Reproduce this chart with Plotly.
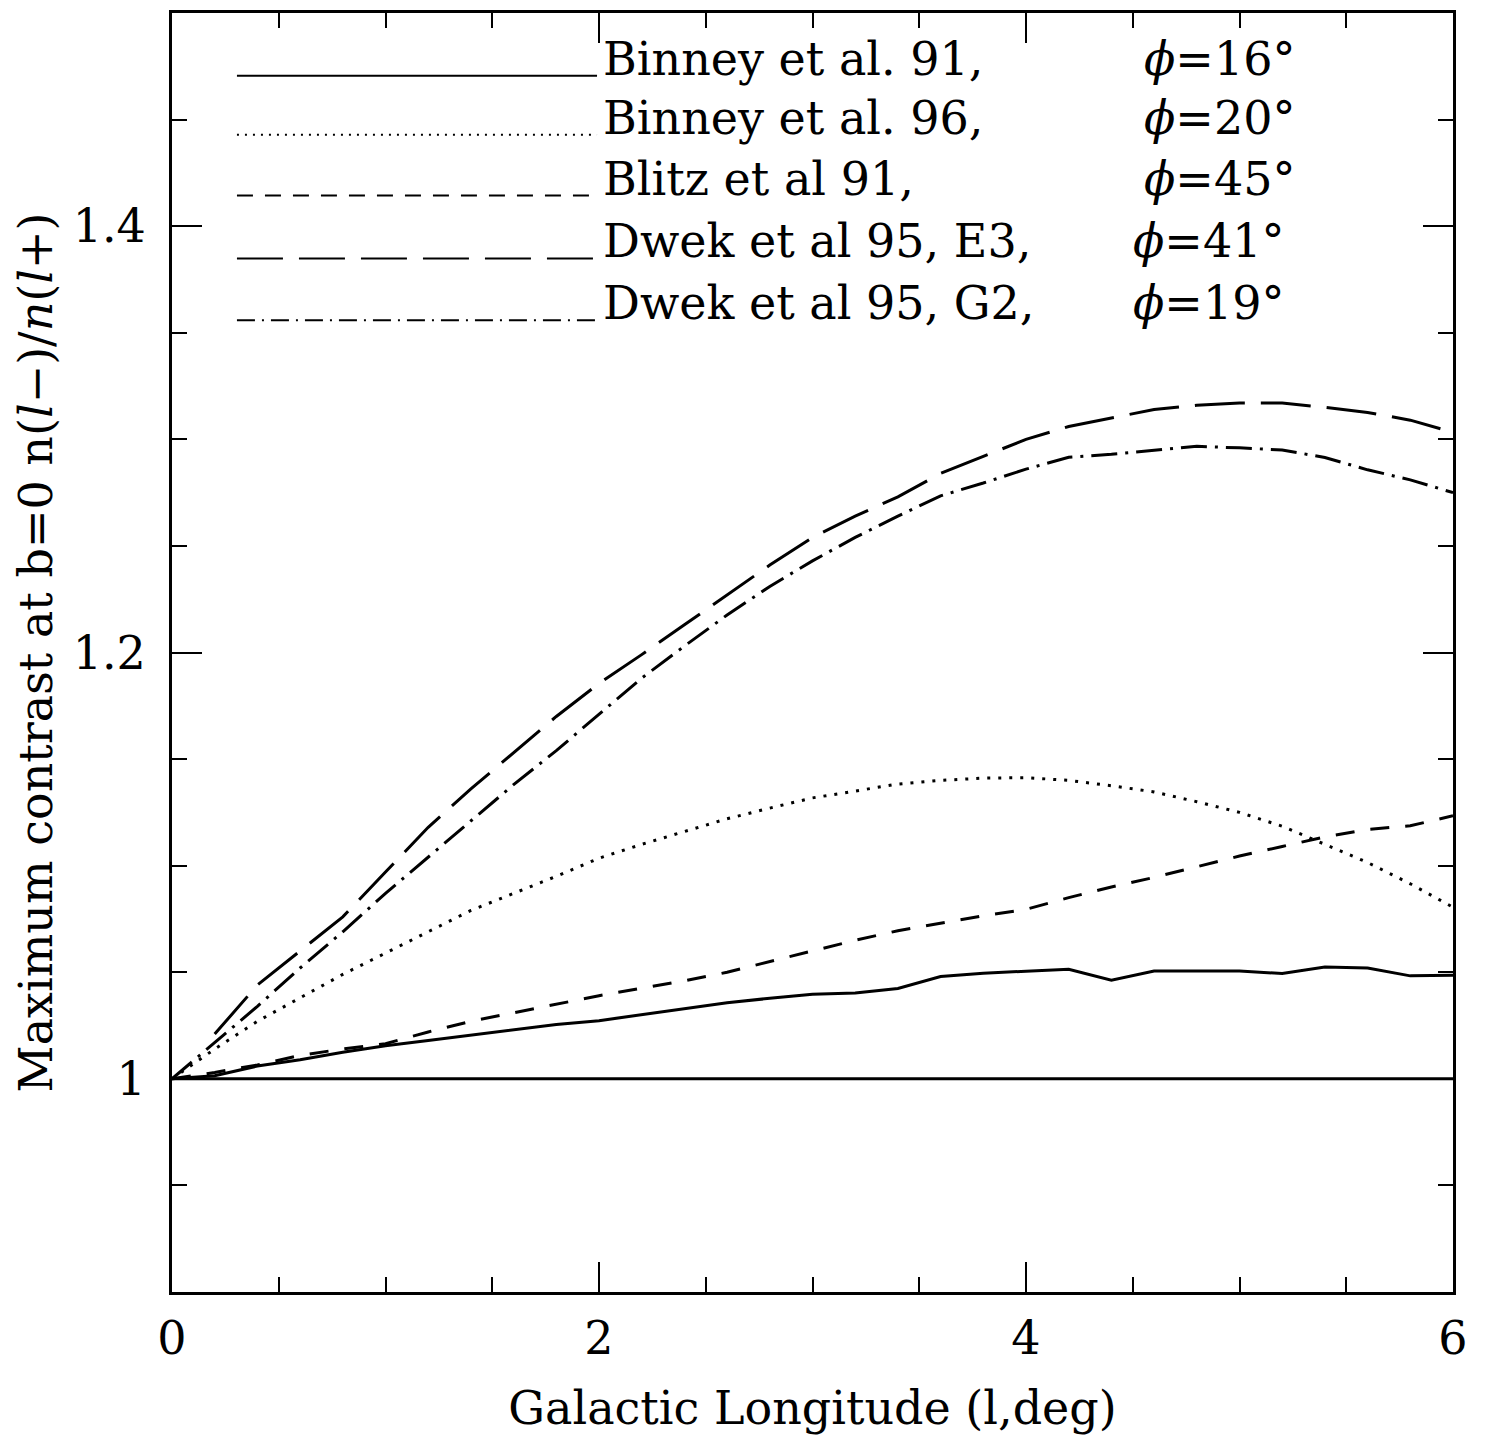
# MAXIMUM CONTRAST n(l-)/n(l+) AT b=0 FOR DIFFERENT BAR MODELS
# ----------------------------------------------------------------------------------------------------

# IMPORTING LIBRARIES
# ----------------------------------------------------------------------------------------------------
import plotly.graph_objects as go

# DATA
# ----------------------------------------------------------------------------------------------------
longitude = [0.0, 0.2, 0.4, 0.6, 0.8, 1.0, 1.2, 1.4, 1.6, 1.8, 2.0, 2.2, 2.4, 2.6, 2.8, 3.0,
             3.2, 3.4, 3.6, 3.8, 4.0, 4.2, 4.4, 4.6, 4.8, 5.0, 5.2, 5.4, 5.6, 5.8, 6.0]

binney91 = [1.000, 1.0015, 1.006, 1.009, 1.0125, 1.0155, 1.018, 1.0205, 1.023, 1.0255, 1.0273,
            1.030, 1.033, 1.0357, 1.0378, 1.0397, 1.0403, 1.0424, 1.048, 1.0495, 1.0505,
            1.0514, 1.0463, 1.0506, 1.0506, 1.0506, 1.0494, 1.0525, 1.052, 1.0483, 1.0486]

binney96 = [1.000, 1.014, 1.027, 1.038, 1.049, 1.059, 1.069, 1.079, 1.087, 1.095, 1.1035,
            1.110, 1.116, 1.122, 1.127, 1.1318, 1.135, 1.1383, 1.140, 1.1411, 1.1413,
            1.140, 1.1375, 1.1346, 1.130, 1.125, 1.1185, 1.110, 1.1015, 1.0915, 1.0805]

blitz91 = [1.000, 1.003, 1.0065, 1.011, 1.014, 1.0165, 1.022, 1.027, 1.031, 1.035, 1.039,
           1.0425, 1.046, 1.050, 1.055, 1.060, 1.065, 1.0695, 1.073, 1.0765, 1.0795,
           1.085, 1.090, 1.0945, 1.0995, 1.1045, 1.109, 1.1135, 1.117, 1.1187, 1.1234]

dwek95_e3 = [None, 1.021, 1.044, 1.060, 1.076, 1.097, 1.118, 1.136, 1.153, 1.170, 1.1855,
             1.199, 1.213, 1.227, 1.241, 1.254, 1.264, 1.273, 1.284, 1.292, 1.300,
             1.306, 1.310, 1.314, 1.316, 1.317, 1.317, 1.315, 1.3126, 1.309, 1.3033]

dwek95_g2 = [1.000, 1.017, 1.034, 1.052, 1.069, 1.087, 1.104, 1.121, 1.138, 1.154, 1.171,
             1.188, 1.203, 1.2176, 1.231, 1.243, 1.254, 1.264, 1.2735, 1.2795, 1.286,
             1.2916, 1.293, 1.295, 1.2967, 1.296, 1.295, 1.2915, 1.2857, 1.281, 1.275]

model_names = ['Binney et al. 91,', 'Binney et al. 96,', 'Blitz et al 91,',
               'Dwek et al 95, E3,', 'Dwek et al 95, G2,']
bar_angles = ['16', '20', '45', '41', '19']

# STYLES
# ----------------------------------------------------------------------------------------------------
FONT = 'DejaVu Serif'
series = [binney91, binney96, blitz91, dwek95_e3, dwek95_g2]
curve_dash = ['solid', '3px,8px', '19px,16px', '50px,16px', '26px,8px,3px,8px']
key_dash = ['solid', '2px,6px', '16px,12px', '46px,16px', '18px,7px,2px,7px']
key_y = [0.9509, 0.9048, 0.8573, 0.8081, 0.7598]
angle_x = [0.757, 0.757, 0.757, 0.749, 0.749]

# DATA VISUALIZATION
# ----------------------------------------------------------------------------------------------------
fig = go.Figure()

for values, dash in zip(series, curve_dash):
    fig.add_trace(go.Scatter(
        x=longitude,
        y=values,
        mode='lines',
        line={'color': 'black', 'width': 3, 'dash': dash},
        showlegend=False
    ))

# reference line at contrast 1
fig.add_hline(y=1, line={'color': 'black', 'width': 3})

# hand-drawn key in the upper left corner
for name, angle, dash, ky, ax in zip(model_names, bar_angles, key_dash, key_y, angle_x):
    fig.add_shape(
        type='line', xref='paper', yref='paper',
        x0=0.0507, x1=0.3318, y0=ky, y1=ky,
        line={'color': 'black', 'width': 2, 'dash': dash}
    )
    fig.add_annotation(
        x=0.3349, y=ky, xref='paper', yref='paper',
        xanchor='left', yanchor='bottom', yshift=-12,
        text=name, showarrow=False,
        font={'family': FONT, 'size': 46, 'color': 'black'}
    )
    fig.add_annotation(
        x=ax, y=ky, xref='paper', yref='paper',
        xanchor='left', yanchor='bottom', yshift=-12,
        text='<i>ϕ</i>=' + angle + '°', showarrow=False,
        font={'family': FONT, 'size': 46, 'color': 'black'}
    )

fig.update_xaxes({
    'range': [0, 6],
    'tickvals': [0, 2, 4, 6],
    'ticks': 'inside',
    'ticklen': 30,
    'tickwidth': 2,
    'tickcolor': 'black',
    'minor': {'dtick': 0.5, 'ticks': 'inside', 'ticklen': 15, 'tickwidth': 2, 'tickcolor': 'black'},
    'showline': True,
    'linewidth': 3,
    'linecolor': 'black',
    'mirror': 'allticks',
    'showgrid': False,
    'zeroline': False,
    'ticklabelstandoff': 4,
    'tickfont': {'family': FONT, 'size': 46, 'color': 'black'},
    'title': {'text': 'Galactic Longitude (l,deg)', 'standoff': 28,
              'font': {'family': FONT, 'size': 46, 'color': 'black'}}
})

fig.update_yaxes({
    'range': [0.9, 1.5],
    'tickvals': [1, 1.2, 1.4],
    'ticktext': ['1', '1.2', '1.4'],
    'ticks': 'inside',
    'ticklen': 30,
    'tickwidth': 2,
    'tickcolor': 'black',
    'minor': {'dtick': 0.05, 'ticks': 'inside', 'ticklen': 15, 'tickwidth': 2, 'tickcolor': 'black'},
    'showline': True,
    'linewidth': 3,
    'linecolor': 'black',
    'mirror': 'allticks',
    'showgrid': False,
    'zeroline': False,
    'ticklabelstandoff': 14,
    'tickfont': {'family': FONT, 'size': 46, 'color': 'black'},
    'title': {'text': 'Maximum contrast at b=0 n(<i>l</i>−)/<i>n</i>(<i>l</i>+)', 'standoff': 6,
              'font': {'family': FONT, 'size': 46, 'color': 'black'}}
})

fig.update_layout(
    width=1486,
    height=1435,
    margin={'l': 164, 'r': 41, 't': 2, 'b': 151},
    plot_bgcolor='white',
    paper_bgcolor='white'
)

fig.write_html('out.html')
